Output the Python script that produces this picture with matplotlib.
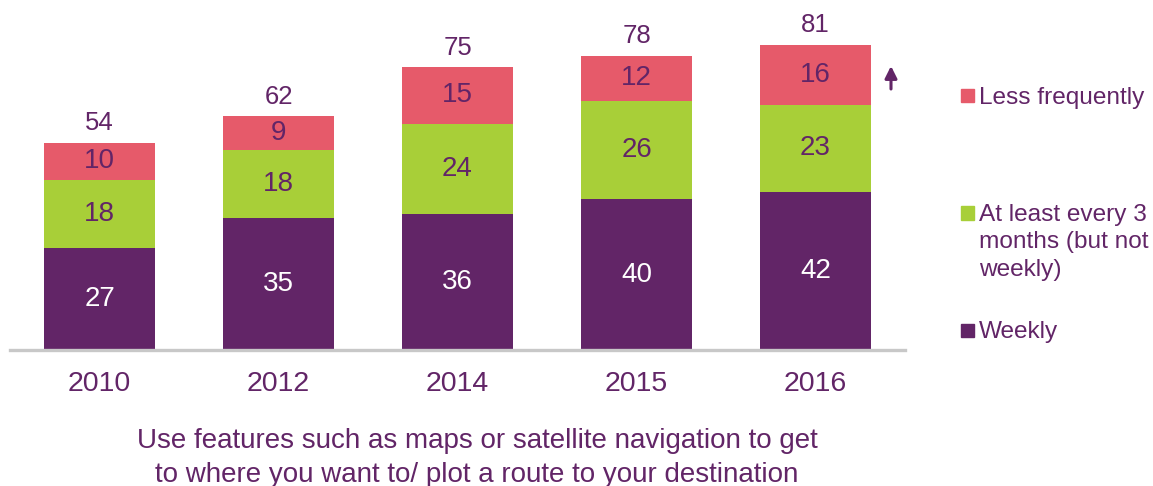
import matplotlib
matplotlib.use("Agg")
import matplotlib.pyplot as plt
from matplotlib.patches import Rectangle

years = ["2010", "2012", "2014", "2015", "2016"]
weekly = [27, 35, 36, 40, 42]
every3 = [18, 18, 24, 26, 23]
lessfreq = [10, 9, 15, 12, 16]
totals = [54, 62, 75, 78, 81]
series_names = ["Less frequently", "At least every 3\nmonths (but not\nweekly)", "Weekly"]
caption = "Use features such as maps or satellite navigation to get\nto where you want to/ plot a route to your destination"

PURPLE = "#622567"
GREEN = "#A8CF38"
RED = "#E65A6A"
GRAY = "#C8C8C8"

plt.rcParams['font.family'] = ['Liberation Sans', 'DejaVu Sans']

W, H = 1153, 486
fig = plt.figure(figsize=(W / 100, H / 100), dpi=100)
ax = fig.add_axes([10 / W, 1 - 350 / H, 895 / W, 350 / H])

x = list(range(len(years)))
bw = 0.62
ax.bar(x, weekly, width=bw, color=PURPLE)
ax.bar(x, every3, width=bw, bottom=weekly, color=GREEN)
bottom3 = [a + b for a, b in zip(weekly, every3)]
ax.bar(x, lessfreq, width=bw, bottom=bottom3, color=RED)

for i in x:
    ax.text(i, weekly[i] / 2, str(weekly[i]), ha='center', va='center', color='white', fontsize=20)
    ax.text(i, weekly[i] + every3[i] / 2, str(every3[i]), ha='center', va='center', color=PURPLE, fontsize=20)
    ax.text(i, bottom3[i] + lessfreq[i] / 2, str(lessfreq[i]), ha='center', va='center', color=PURPLE, fontsize=20)
    top = bottom3[i] + lessfreq[i]
    ax.annotate(str(totals[i]), (i, top), xytext=(0, 14), textcoords='offset points',
                ha='center', va='center', color=PURPLE, fontsize=18.5)

ax.set_xlim(-0.5, 4.5)
ax.set_ylim(0, 92.8)
ax.set_xticks(x)
ax.set_xticklabels(years, fontsize=20.5, color=PURPLE)
ax.tick_params(axis='x', length=0, pad=15)
ax.set_yticks([])
for s in ['top', 'right', 'left']:
    ax.spines[s].set_visible(False)
ax.spines['bottom'].set_color(GRAY)
ax.spines['bottom'].set_linewidth(2.4)

# up arrow next to 2016
ax.annotate('', xy=(891 / W, 1 - 66 / H), xytext=(891 / W, 1 - 89 / H),
            xycoords='figure fraction', textcoords='figure fraction',
            arrowprops=dict(arrowstyle='-|>', color=PURPLE, lw=2.2, mutation_scale=18,
                            shrinkA=0, shrinkB=0))

# legend
leg = [(RED, series_names[0], 96), (GREEN, series_names[1], 213), (PURPLE, series_names[2], 330)]
for col, name, yc in leg:
    fig.patches.append(Rectangle((961 / W, 1 - (yc + 6.5) / H), 13 / W, 13 / H,
                                 transform=fig.transFigure, color=col))
    fig.text(979 / W, 1 - (yc - 9) / H, name, ha='left', va='top', fontsize=17.6,
             color=PURPLE, linespacing=1.32)

fig.text(477 / W, 1 - 458 / H, caption, ha='center', va='center', fontsize=20,
         color=PURPLE, linespacing=1.36)

fig.savefig("out.png", dpi=100)
